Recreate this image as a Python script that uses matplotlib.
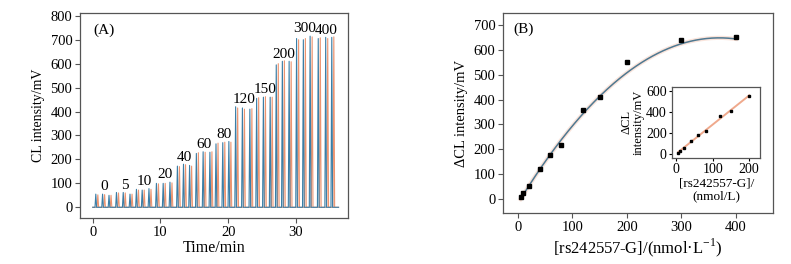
import matplotlib

matplotlib.use("Agg")
import matplotlib.pyplot as plt
import numpy as np

plt.rcParams["font.family"] = ["Liberation Serif", "DejaVu Serif"]
plt.rcParams["mathtext.fontset"] = "custom"
plt.rcParams["mathtext.rm"] = "Liberation Serif"

# panel A: peak groups (concentration label, peak times, peak heights)
group_labels = ["0", "5", "10", "20", "40", "60", "80", "120", "150", "200", "300", "400"]
peak_times = [
    [0.45, 1.45, 2.4], [3.5, 4.5, 5.5], [6.45, 7.3, 8.3], [9.4, 10.4, 11.4],
    [12.5, 13.4, 14.3], [15.3, 16.3, 17.3], [18.2, 19.2, 20.1], [21.1, 22.1, 23.2],
    [24.2, 25.2, 26.2], [27.1, 28.0, 29.0], [30.1, 31.1, 32.1], [33.3, 34.4, 35.3],
]
peak_heights = [
    [55, 55, 50], [62, 62, 55], [75, 72, 78], [100, 100, 105],
    [172, 180, 175], [225, 232, 230], [265, 270, 275], [420, 415, 410],
    [455, 460, 460], [595, 610, 610], [705, 700, 715], [705, 710, 710],
]
orange_heights = [
    [52, 53, 50], [60, 60, 55], [72, 72, 75], [98, 100, 102],
    [170, 178, 172], [228, 230, 232], [268, 272, 272], [415, 410, 412],
    [458, 462, 460], [600, 612, 608], [700, 705, 712], [708, 705, 712],
]

# panel B: calibration data
conc = [5, 10, 20, 40, 60, 80, 120, 150, 200, 300, 400]
delta_cl = [8, 24, 51, 122, 178, 216, 357, 410, 551, 641, 652]
# quadratic fit drawn in the figure
fit_coef = [-0.004864, 3.599, -17.9]

BLUE = "#3b7ea6"
ORANGE = "#ec9470"


def trace(times, heights, width=0.12):
    xs, ys = [0.0], [0.0]
    for t, h in zip(times, heights):
        xs += [t - width, t, t + width]
        ys += [0, h, 0]
    xs.append(36.3)
    ys.append(0)
    return xs, ys


fig = plt.figure(figsize=(7.91, 2.64), dpi=100)

# ---- panel A
ax = fig.add_axes([0.101, 0.174, 0.339, 0.777])
all_t = [t for g in peak_times for t in g]
all_h = [h for g in peak_heights for h in g]
all_o = [h for g in orange_heights for h in g]
xo, yo = trace([t + 0.3 for t in all_t], all_o)
ax.plot(xo, yo, color=ORANGE, lw=0.8)
xb, yb = trace(all_t, all_h)
ax.plot(xb, yb, color=BLUE, lw=0.8)
for lab, ts, hs in zip(group_labels, peak_times, peak_heights):
    ax.annotate(lab, (np.mean(ts) + 0.2, max(hs)), xytext=(0, 0.5),
                textcoords="offset points", ha="center", va="bottom", fontsize=11)
ax.set_xlim(-1.9, 37.7)
ax.set_ylim(-45, 812)
ax.set_xticks([0, 10, 20, 30])
ax.set_yticks(range(0, 801, 100))
ax.set_xlabel("Time/min", fontsize=11.5, labelpad=1)
ax.set_ylabel("CL intensity/mV", fontsize=10, labelpad=4)
ax.text(0.05, 0.95, "(A)", transform=ax.transAxes, fontsize=11, va="top")

# ---- panel B
bx = fig.add_axes([0.636, 0.193, 0.341, 0.758])
xf = np.linspace(conc[0], conc[-1], 200)
yf = np.polyval(fit_coef, xf)
bx.plot(xf, yf, color=ORANGE, lw=3, alpha=0.25)
bx.plot(xf, yf, color="#4f7890", lw=1.1)
bx.plot(conc, delta_cl, "s", color="black", ms=3.3)
bx.set_xlim(-27, 468)
bx.set_ylim(-56, 748)
bx.set_xticks([0, 100, 200, 300, 400])
bx.set_yticks(range(0, 701, 100))
bx.set_xlabel("[rs242557-G]/(nmol·L$^{-1}$)", fontsize=12, labelpad=2)
bx.set_ylabel("ΔCL intensity/mV", fontsize=10.5, labelpad=4)
bx.text(0.04, 0.95, "(B)", transform=bx.transAxes, fontsize=11, va="top")

# ---- inset
ix = fig.add_axes([0.850, 0.402, 0.111, 0.269])
lin_x = conc[:9]
lin_y = delta_cl[:9]
lc = np.polyfit(lin_x, lin_y, 1)
lx = np.array([lin_x[0], lin_x[-1]])
ix.plot(lx, np.polyval(lc, lx), color=ORANGE, lw=1.4, alpha=0.8)
ix.plot(lin_x, lin_y, "s", color="black", ms=2)
ix.set_xlim(-11, 230)
ix.set_ylim(-40, 640)
ix.set_xticks([0, 100, 200])
ix.set_yticks([0, 200, 400, 600])
ix.set_xlabel("[rs242557-G]/\n(nmol/L)", fontsize=9.5, labelpad=1, linespacing=1.0)
ix.set_ylabel("ΔCL\nintensity/mV", fontsize=9, labelpad=1, linespacing=1.0)
ix.tick_params(labelsize=10, length=2.5, pad=1.5)

for a in (ax, bx, ix):
    for s in a.spines.values():
        s.set_color("#555555")
        s.set_linewidth(0.9)
for a in (ax, bx):
    a.tick_params(labelsize=10.5, length=3.5, color="#555555", pad=2)

fig.savefig("out.png", dpi=100)
